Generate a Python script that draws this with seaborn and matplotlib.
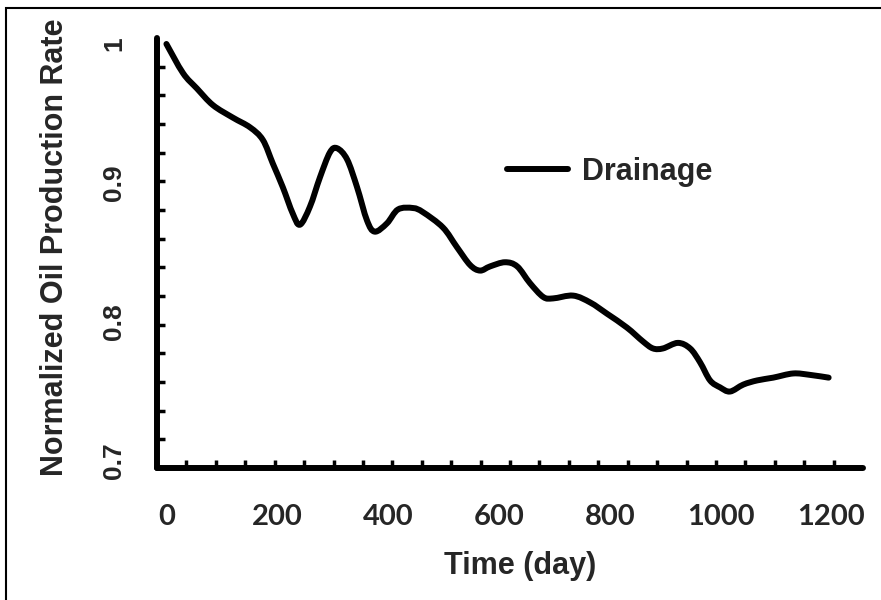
import numpy as np
import pandas as pd
import matplotlib
matplotlib.use("Agg")
import matplotlib.pyplot as plt
from matplotlib.patches import Rectangle, PathPatch
from matplotlib.path import Path
from matplotlib.lines import Line2D
from matplotlib.ticker import FixedLocator
import seaborn as sns

# Normalized oil production rate over time for the drainage case
days = [0, 30, 55, 84, 120, 151, 174, 192, 210, 228, 241, 259, 277, 295, 308,
        326, 344, 362, 376, 398, 418, 445, 463, 499, 524, 548, 566, 584, 611,
        633, 656, 680, 698, 734, 765, 795, 831, 860, 878, 896, 923, 945, 963,
        981, 999, 1017, 1041, 1066, 1095, 1131, 1161, 1195]
rate = [1.000, 0.979, 0.968, 0.956, 0.947, 0.940, 0.931, 0.914, 0.897, 0.878,
        0.870, 0.883, 0.904, 0.922, 0.925, 0.917, 0.897, 0.873, 0.865, 0.871,
        0.881, 0.882, 0.879, 0.868, 0.854, 0.841, 0.837, 0.840, 0.843, 0.840,
        0.828, 0.818, 0.817, 0.819, 0.814, 0.806, 0.796, 0.786, 0.781, 0.781,
        0.785, 0.781, 0.771, 0.758, 0.753, 0.750, 0.755, 0.758, 0.760, 0.763,
        0.762, 0.760]

x_ticks = [0, 200, 400, 600, 800, 1000, 1200]
y_ticks = [0.7, 0.8, 0.9, 1.0]
y_tick_labels = ["0.7", "0.8", "0.9", "1"]
series_name = "Drainage"

df = pd.DataFrame({"Time (day)": days, "Rate": rate})

sns.set_theme(style="white")
plt.rcParams["font.family"] = ["Liberation Sans", "DejaVu Sans"]
plt.rcParams["font.weight"] = "bold"

LW = 4.3

fig = plt.figure(figsize=(8.81, 6.0), dpi=100)
ax = fig.add_axes([157 / 881, 1 - 468 / 600, 706 / 881, 430 / 600])

sns.lineplot(data=df, x="Time (day)", y="Rate", ax=ax, color="black",
             linewidth=LW, sort=False, legend=False)

# render the series as a smoothed (Catmull-Rom Bezier) stroke through its points
line = ax.lines[0]
pts = line.get_xydata()
ext = np.vstack([pts[0], pts, pts[-1]])
verts = [pts[0]]
codes = [Path.MOVETO]
for i in range(1, len(ext) - 2):
    p0, p1, p2, p3 = ext[i - 1], ext[i], ext[i + 1], ext[i + 2]
    verts += [p1 + (p2 - p0) / 6.0, p2 - (p3 - p1) / 6.0, p2]
    codes += [Path.CURVE4] * 3
ax.add_patch(PathPatch(Path(verts, codes), transform=ax.transData,
                       fill=False, edgecolor="black", linewidth=LW,
                       capstyle="round", joinstyle="round"))
line.set_visible(False)

xlim = (-17, 1257)
ylim = (0.695, 1.0043)
ax.set_xlim(*xlim)
ax.set_ylim(*ylim)

# labelled ticks without marks, plus evenly spaced inward tick marks
ax.set_xticks(x_ticks)
ax.set_xticklabels([str(v) for v in x_ticks], fontfamily="Lato",
                   fontweight="bold", fontsize=21)
ax.set_yticks(y_ticks)
ax.set_yticklabels(y_tick_labels, rotation=90, va="center", fontsize=19,
                   fontweight="bold")
ax.tick_params(axis="both", which="major", length=0)
ax.tick_params(axis="x", which="major", pad=26)
ax.tick_params(axis="y", which="major", pad=22)

ax.xaxis.set_minor_locator(FixedLocator(np.linspace(*xlim, 25)[1:-1]))
ax.yaxis.set_minor_locator(FixedLocator(np.linspace(*ylim, 16)[1:-1]))
ax.tick_params(axis="both", which="minor", direction="in", length=6,
               width=2.5, color="black", bottom=True, left=True)

for side in ("top", "right"):
    ax.spines[side].set_visible(False)
for side in ("left", "bottom"):
    ax.spines[side].set_linewidth(LW)
    ax.spines[side].set_color("black")
    ax.spines[side].set_capstyle("round")

ax.set_xlabel("Time (day)", fontsize=22, fontweight="bold")
ax.set_ylabel("Normalized Oil Production Rate", fontsize=22, fontweight="bold")
ax.xaxis.set_label_coords(0.514, -0.228)
ax.yaxis.set_label_coords(-0.1445, 0.514)
ax.xaxis.label.set_va("center")
ax.yaxis.label.set_va("center")

handle = Line2D([], [], color="black", linewidth=LW)
leg = ax.legend([handle], [series_name], loc="center left",
                bbox_to_anchor=(0.496, 0.688), frameon=False, fontsize=22,
                handlelength=2.0, handletextpad=0.45, borderpad=0,
                borderaxespad=0)
for t in leg.get_texts():
    t.set_fontweight("bold")

# outer frame around the figure
fig.patches.append(Rectangle((6 / 881, -0.05), 1.0, 1 - 8 / 600 + 0.05,
                             transform=fig.transFigure, fill=False,
                             edgecolor="black", linewidth=1.5))

fig.savefig("out.png", dpi=100)
